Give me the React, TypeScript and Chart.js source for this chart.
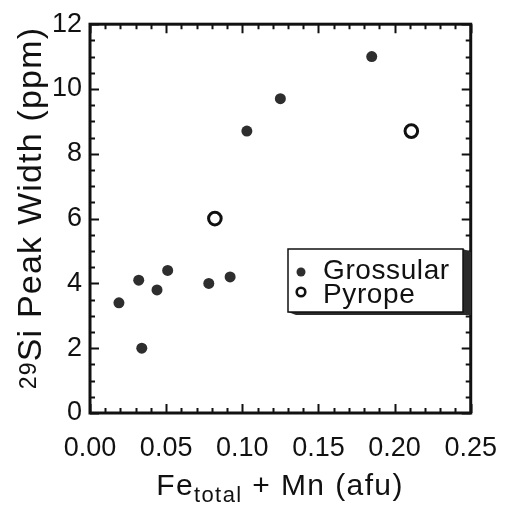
import React, { useEffect, useRef } from 'react';
import { Chart, registerables } from 'chart.js';

Chart.register(...registerables);

// ---- data ----
const grossularX = [0.019, 0.032, 0.034, 0.044, 0.051, 0.078, 0.092, 0.103, 0.125, 0.185];
const grossularY = [3.4, 4.1, 2.0, 3.8, 4.4, 4.0, 4.2, 8.7, 9.7, 11.0];
const pyropeX = [0.082, 0.211];
const pyropeY = [6.0, 8.7];
const seriesLabels = ['Grossular', 'Pyrope'];
const xRange = [0, 0.25];
const yRange = [0, 12];
const xMajorStep = 0.05;
const xMinorStep = 0.01;
const yMajorStep = 2;
const yMinorStep = 0.5;

const FONT = "'Liberation Sans', Arial, Helvetica, sans-serif";
const INK = '#111111';

const framePlugin = {
  id: 'frameTicks',
  beforeDatasetsDraw(chart: any) {
    const { ctx, chartArea: a, scales } = chart;
    const x = scales.x;
    const y = scales.y;
    ctx.save();
    ctx.strokeStyle = INK;
    ctx.lineWidth = 2;
    ctx.lineCap = 'butt';
    const nx = Math.round((xRange[1] - xRange[0]) / xMinorStep);
    for (let i = 0; i <= nx; i++) {
      const v = xRange[0] + i * xMinorStep;
      const px = Math.round(x.getPixelForValue(v)) + 0.5;
      const major = i % Math.round(xMajorStep / xMinorStep) === 0;
      const len = major ? 9 : 5;
      ctx.beginPath();
      ctx.moveTo(px, a.bottom);
      ctx.lineTo(px, a.bottom - len);
      ctx.moveTo(px, a.top);
      ctx.lineTo(px, a.top + len);
      ctx.stroke();
    }
    const ny = Math.round((yRange[1] - yRange[0]) / yMinorStep);
    for (let i = 0; i <= ny; i++) {
      const v = yRange[0] + i * yMinorStep;
      const py = Math.round(y.getPixelForValue(v)) + 0.5;
      const major = i % Math.round(yMajorStep / yMinorStep) === 0;
      const len = major ? 9 : 5;
      ctx.beginPath();
      ctx.moveTo(a.left, py);
      ctx.lineTo(a.left + len, py);
      ctx.moveTo(a.right, py);
      ctx.lineTo(a.right - len, py);
      ctx.stroke();
    }
    ctx.lineWidth = 3;
    ctx.strokeRect(a.left, a.top, a.right - a.left, a.bottom - a.top);
    ctx.restore();
  },
};

const legendPlugin = {
  id: 'boxLegend',
  afterDatasetsDraw(chart: any) {
    const { ctx } = chart;
    const x0 = 288, y0 = 249, x1 = 463, y1 = 312;
    const dx = 8, dy = 3;
    ctx.save();
    // 3D shadow
    ctx.fillStyle = '#2a2a2a';
    ctx.beginPath();
    ctx.moveTo(x1, y0);
    ctx.lineTo(x1 + dx, y0 + dy);
    ctx.lineTo(x1 + dx, y1 + dy);
    ctx.lineTo(x0 + dx, y1 + dy);
    ctx.lineTo(x0, y1);
    ctx.lineTo(x1, y1);
    ctx.closePath();
    ctx.fill();
    ctx.fillStyle = '#ffffff';
    ctx.fillRect(x0, y0, x1 - x0, y1 - y0);
    ctx.strokeStyle = INK;
    ctx.lineWidth = 1.5;
    ctx.strokeRect(x0, y0, x1 - x0, y1 - y0);

    const rows = [
      { my: 272, base: 279 },
      { my: 292, base: 303 },
    ];
    chart.data.datasets.forEach((ds: any, i: number) => {
      const r = rows[i];
      if (!r) return;
      ctx.beginPath();
      if (i === 0) {
        ctx.arc(301, r.my, 4.5, 0, Math.PI * 2);
        ctx.fillStyle = ds.backgroundColor;
        ctx.fill();
      } else {
        ctx.arc(301, r.my, 4.3, 0, Math.PI * 2);
        ctx.fillStyle = '#fff';
        ctx.fill();
        ctx.lineWidth = 2.6;
        ctx.strokeStyle = ds.borderColor;
        ctx.stroke();
      }
      ctx.fillStyle = INK;
      ctx.font = `28px ${FONT}`;
      (ctx as any).letterSpacing = '0.6px';
      ctx.textAlign = 'left';
      ctx.textBaseline = 'alphabetic';
      ctx.fillText(ds.label, 323, r.base);
      (ctx as any).letterSpacing = '0px';
    });
    ctx.restore();
  },
};

const titlePlugin = {
  id: 'mixedTitles',
  afterDraw(chart: any) {
    const { ctx } = chart;
    ctx.save();
    ctx.fillStyle = INK;
    ctx.textBaseline = 'alphabetic';
    ctx.textAlign = 'left';
    (ctx as any).letterSpacing = '1.4px';

    // X title: Fe_total + Mn (afu)
    const big = `30px ${FONT}`;
    const small = `22px ${FONT}`;
    const parts = [
      { t: 'Fe', f: big, dy: 0 },
      { t: 'total', f: small, dy: 7 },
      { t: ' + Mn (afu)', f: big, dy: 0 },
    ];
    let total = 0;
    const widths = parts.map((p) => {
      ctx.font = p.f;
      const w = ctx.measureText(p.t).width;
      total += w;
      return w;
    });
    let cx = 280 - total / 2;
    parts.forEach((p, i) => {
      ctx.font = p.f;
      ctx.fillText(p.t, cx, 495 + p.dy);
      cx += widths[i];
    });

    // Y title: 29Si Peak Width (ppm)
    (ctx as any).letterSpacing = '1.2px';
    ctx.translate(41, 208);
    ctx.rotate(-Math.PI / 2);
    const yparts = [
      { t: '29', f: `23px ${FONT}`, dy: -5 },
      { t: 'Si Peak Width (ppm)', f: `34px ${FONT}`, dy: 0 },
    ];
    let ytotal = 0;
    const yw = yparts.map((p) => {
      ctx.font = p.f;
      const w = ctx.measureText(p.t).width;
      ytotal += w;
      return w;
    });
    let yx = -ytotal / 2;
    yparts.forEach((p, i) => {
      ctx.font = p.f;
      ctx.fillText(p.t, yx, p.dy);
      yx += yw[i];
    });
    (ctx as any).letterSpacing = '0px';
    ctx.restore();
  },
};

export default function App() {
  const canvasRef = useRef<HTMLCanvasElement | null>(null);

  useEffect(() => {
    const canvas = canvasRef.current;
    if (!canvas) return;
    const chart = new Chart(canvas, {
      type: 'scatter',
      data: {
        datasets: [
          {
            label: seriesLabels[0],
            data: grossularX.map((x, i) => ({ x, y: grossularY[i] })),
            backgroundColor: '#2e2e2e',
            borderColor: '#2e2e2e',
            borderWidth: 0,
            pointRadius: 5.5,
            showLine: false,
          },
          {
            label: seriesLabels[1],
            data: pyropeX.map((x, i) => ({ x, y: pyropeY[i] })),
            backgroundColor: '#ffffff',
            borderColor: '#111111',
            borderWidth: 3,
            pointRadius: 6.3,
            showLine: false,
          },
        ],
      },
      options: {
        responsive: false,
        animation: false,
        devicePixelRatio: 1,
        layout: { padding: { top: 22, right: 34, left: 0, bottom: 0 } },
        plugins: {
          legend: { display: false },
          tooltip: { enabled: false },
        },
        scales: {
          x: {
            type: 'linear',
            min: xRange[0],
            max: xRange[1],
            grid: { display: false, drawTicks: false },
            border: { display: false },
            ticks: {
              stepSize: xMajorStep,
              padding: 19,
              color: INK,
              font: { family: FONT, size: 27 },
              maxRotation: 0,
              autoSkip: false,
              callback: (v: any) => Number(v).toFixed(2),
            },
            afterFit: (s: any) => {
              s.height = 95;
            },
          },
          y: {
            type: 'linear',
            min: yRange[0],
            max: yRange[1],
            grid: { display: false, drawTicks: false },
            border: { display: false },
            ticks: {
              stepSize: yMajorStep,
              padding: 8,
              color: INK,
              font: { family: FONT, size: 27 },
              autoSkip: false,
              callback: (v: any) => String(Number(v)),
            },
            afterFit: (s: any) => {
              s.width = 90;
            },
          },
        },
      },
      plugins: [framePlugin, legendPlugin, titlePlugin],
    });
    return () => chart.destroy();
  }, []);

  return (
    <div style={{ position: 'fixed', left: 0, top: 0, width: 516, height: 508, background: '#fff' }}>
      <canvas ref={canvasRef} width={516} height={508} style={{ display: 'block', width: 516, height: 508 }} />
    </div>
  );
}
